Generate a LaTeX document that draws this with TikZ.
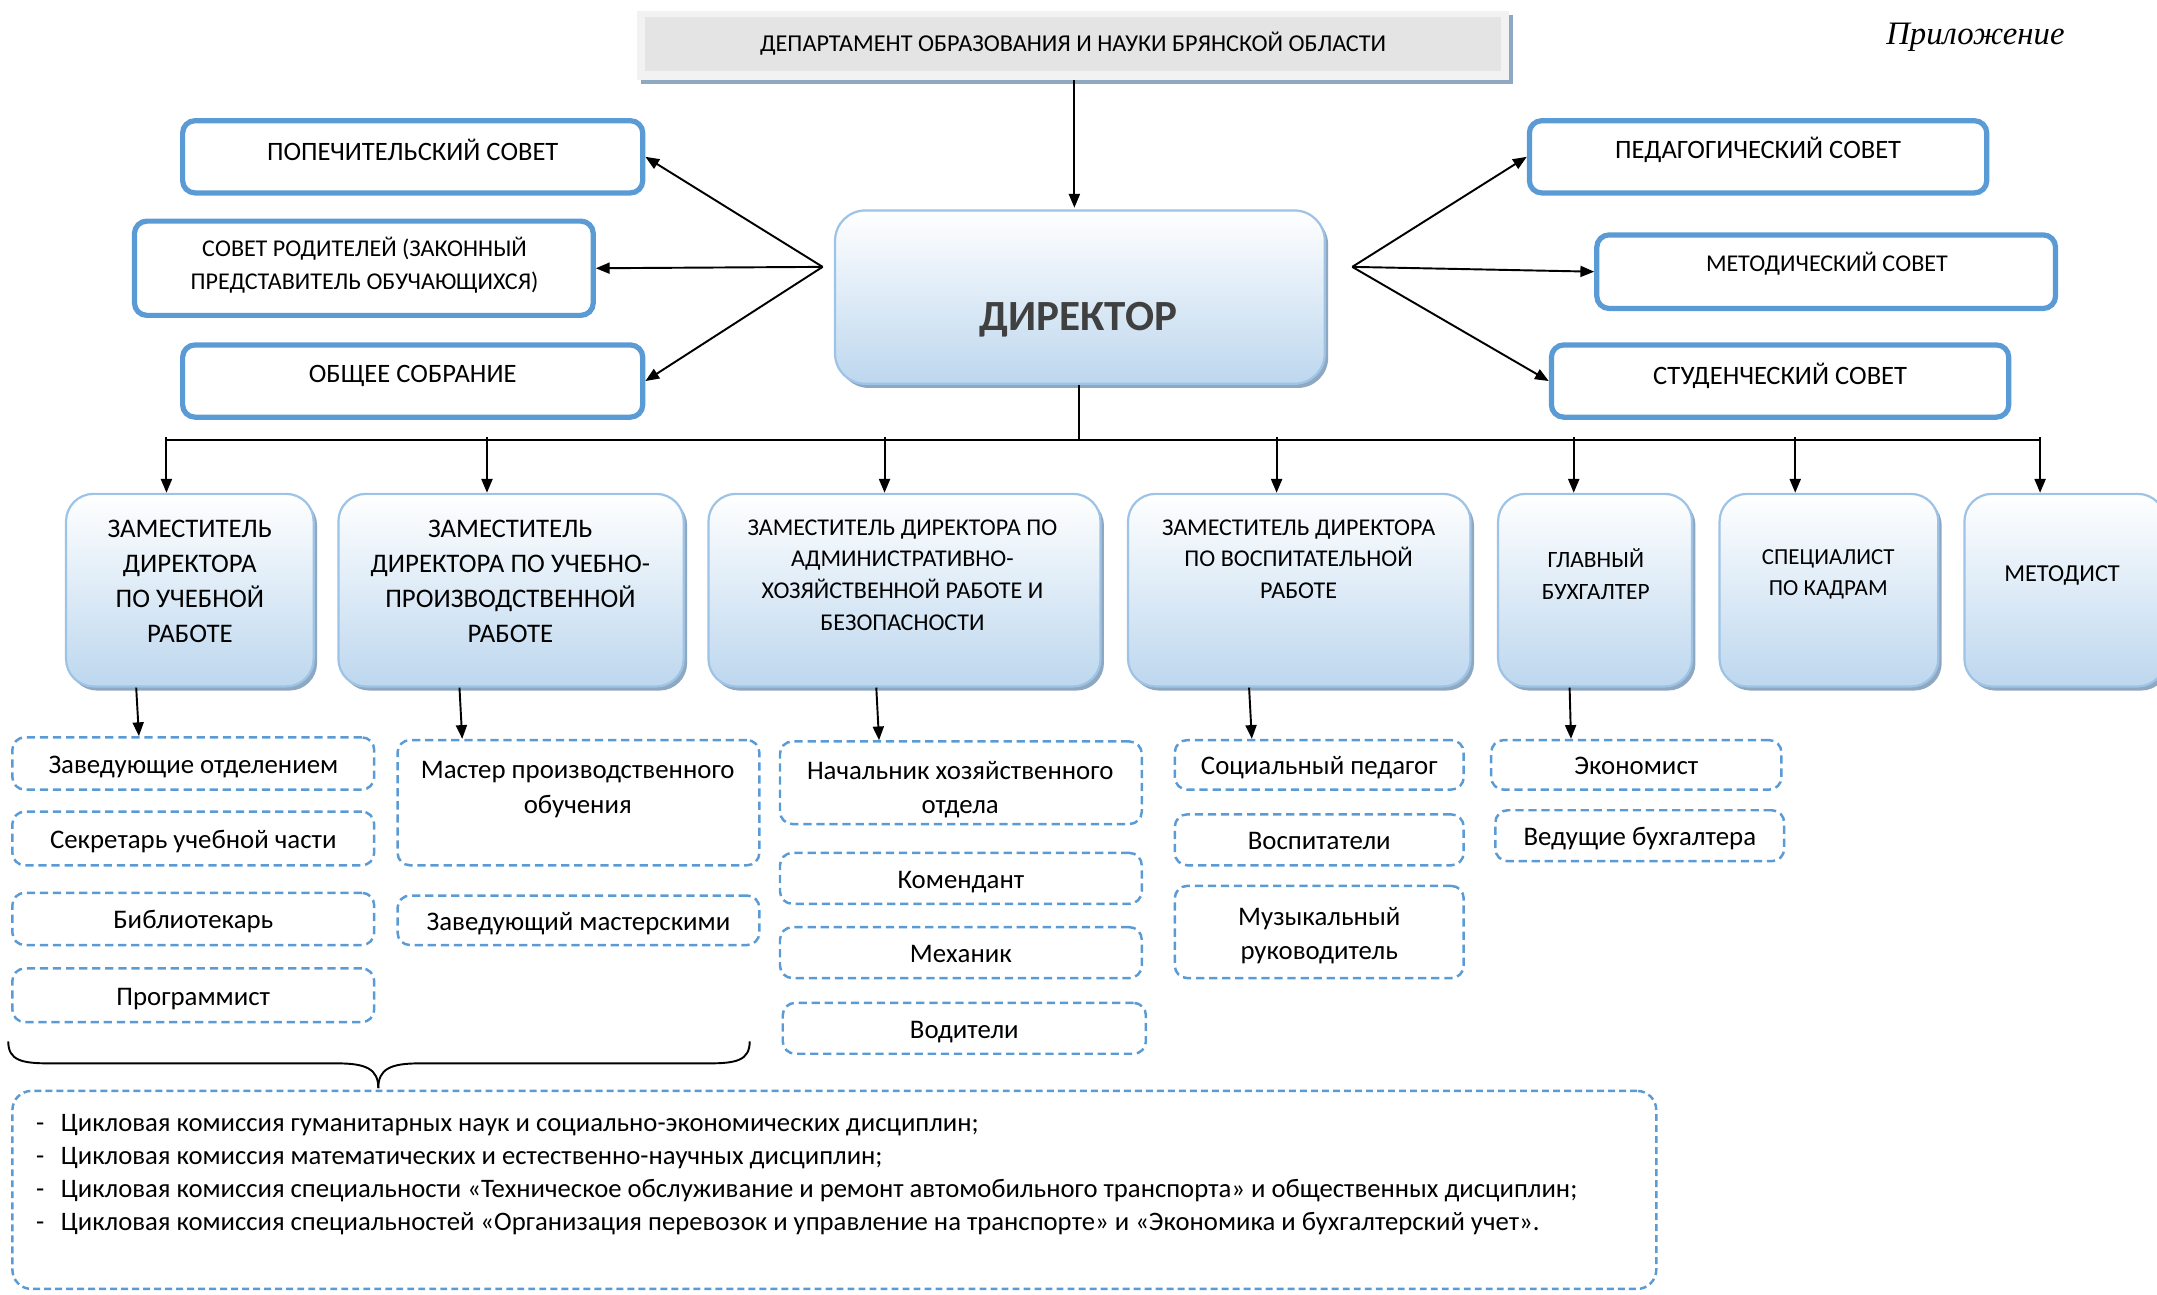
\documentclass[tikz,border=0pt]{standalone}
\usepackage{fontspec}
\setmainfont{Carlito}
\newfontfamily\tnr{Liberation Serif}
\usetikzlibrary{arrows.meta,shadows}
\definecolor{blueB}{HTML}{5B9BD5}
\definecolor{gBorder}{HTML}{9DC3E6}
\definecolor{gBottom}{HTML}{BDD7EE}
\definecolor{shadowC}{HTML}{8FA8C2}
\definecolor{deptFill}{HTML}{E4E4E4}
\definecolor{deptFrame}{HTML}{F2F2F2}
\definecolor{dirText}{HTML}{404040}
\begin{document}
\begin{tikzpicture}[x=1pt,y=-1pt,
  council/.style={draw=blueB, line width=3.8pt, rounded corners=9pt, fill=white, minimum height=52.5pt, inner sep=0pt},
  ctext/.style={font=\fontsize{19.3}{23}\selectfont, align=center, inner sep=0pt},
  gbox/.style={draw=gBorder, line width=1.6pt, rounded corners=20pt, top color=white, bottom color=gBottom,
     drop shadow={shadow xshift=2.5pt, shadow yshift=-3pt, fill=shadowC, opacity=1}, inner sep=0pt, minimum height=140pt},
  dtext/.style={font=\fontsize{19.5}{25.5}\selectfont, align=center, inner sep=0pt},
  dtextS/.style={font=\fontsize{17.5}{23}\selectfont, align=center, inner sep=0pt},
  dbox/.style={draw=blueB, line width=1.8pt, dash pattern=on 6pt off 3.5pt, rounded corners=9pt, inner sep=0pt,
     align=center, font=\fontsize{19.5}{25}\selectfont},
  dbox1/.style={dbox, text height=18pt, text depth=3.5pt},
  arr/.style={-{Triangle[length=10pt,width=8pt]}, line width=1.4pt},
  ln/.style={line width=1.4pt}]
\path[use as bounding box, clip] (0,0) rectangle (1568,941);

% header
\node[inner sep=0pt, font=\tnr\itshape\fontsize{23.8}{28}\selectfont] (app) at (1436,27) {Приложение};
\node[fill=deptFrame, minimum width=634pt, minimum height=50pt, inner sep=0pt,
  drop shadow={shadow xshift=3pt, shadow yshift=-3pt, fill=shadowC, opacity=1}] (dept) at (780,33) {};
\node[fill=deptFill, minimum width=622pt, minimum height=39pt, inner sep=0pt, font=\fontsize{17.6}{22}\selectfont] (deptT) at (780,32) {ДЕПАРТАМЕНТ ОБРАЗОВАНИЯ И НАУКИ БРЯНСКОЙ ОБЛАСТИ};

% director
\node[gbox, rounded corners=22pt, minimum width=356pt, minimum height=126pt] (dir) at (785,216) {};
\node[inner sep=0pt, text=dirText, font=\bfseries\fontsize{31.3}{36}\selectfont] (dirT) at (784,232.5) {ДИРЕКТОР};
\draw[arr] (dept.south -| 781,0) -- (781,151);

% councils
\node[council, minimum width=334.5pt] (pop) at (300,114) {};
\node[ctext] (popT) at (300,109) {ПОПЕЧИТЕЛЬСКИЙ СОВЕТ};
\node[council, minimum width=333.5pt, minimum height=68.5pt] (rod) at (264.5,195) {};
\node[ctext, font=\fontsize{17.5}{24}\selectfont] (rodT) at (265,193) {СОВЕТ РОДИТЕЛЕЙ (ЗАКОННЫЙ\\ПРЕДСТАВИТЕЛЬ ОБУЧАЮЩИХСЯ)};
\node[council, minimum width=334.5pt] (obs) at (300,277) {};
\node[ctext] (obsT) at (300,273) {ОБЩЕЕ СОБРАНИЕ};

\node[council, minimum width=332.5pt] (ped) at (1278,114) {};
\node[ctext] (pedT) at (1278,109) {ПЕДАГОГИЧЕСКИЙ СОВЕТ};
\node[council, minimum width=333.5pt, minimum height=53.5pt] (met) at (1327.5,197.5) {};
\node[ctext, font=\fontsize{17.5}{22}\selectfont] (metT) at (1328,192) {МЕТОДИЧЕСКИЙ СОВЕТ};
\node[council, minimum width=332.5pt] (stu) at (1294,277) {};
\node[ctext] (stuT) at (1294,273) {СТУДЕНЧЕСКИЙ СОВЕТ};

\coordinate (lh) at (598,194);
\coordinate (rh) at (983,194);
\draw[arr] (lh) -- (pop.east);
\draw[arr] (lh) -- (rod.east);
\draw[arr] (lh) -- (obs.east);
\draw[arr] (rh) -- (ped.west);
\draw[arr] (rh) -- (met.west);
\draw[arr] (rh) -- (stu.west);

% bus
\coordinate (busL) at (121,320);
\coordinate (busR) at (1483,320);
\draw[ln] (dir.south -| 784.4,0) -- (784.4,320);
\draw[ln] (busL) -- (busR);

% deputies
\node[gbox, minimum width=180pt] (d1) at (138,429) {};
\node[dtext] (d1T) at (138,422.5) {ЗАМЕСТИТЕЛЬ\\ДИРЕКТОРА\\ПО УЧЕБНОЙ\\РАБОТЕ};
\node[gbox, minimum width=251pt] (d2) at (371.5,429) {};
\node[dtext] (d2T) at (371,422.5) {ЗАМЕСТИТЕЛЬ\\ДИРЕКТОРА ПО УЧЕБНО-\\ПРОИЗВОДСТВЕННОЙ\\РАБОТЕ};
\node[gbox, minimum width=285pt] (d3) at (657.5,429) {};
\node[dtextS] (d3T) at (656,418) {ЗАМЕСТИТЕЛЬ ДИРЕКТОРА ПО\\АДМИНИСТРАТИВНО-\\ХОЗЯЙСТВЕННОЙ РАБОТЕ И\\БЕЗОПАСНОСТИ};
\node[gbox, minimum width=249pt] (d4) at (944.5,429) {};
\node[dtextS] (d4T) at (944,406.5) {ЗАМЕСТИТЕЛЬ ДИРЕКТОРА\\ПО ВОСПИТАТЕЛЬНОЙ\\РАБОТЕ};
\node[gbox, minimum width=141pt] (d5) at (1159.5,429) {};
\node[dtextS, font=\fontsize{17}{23}\selectfont] (d5T) at (1160,417.5) {ГЛАВНЫЙ\\БУХГАЛТЕР};
\node[gbox, minimum width=159pt] (d6) at (1329.5,429) {};
\node[dtextS, font=\fontsize{16.7}{22.5}\selectfont] (d6T) at (1329,417.5) {СПЕЦИАЛИСТ\\ПО КАДРАМ};
\node[gbox, minimum width=146pt] (d7) at (1501,429) {};
\node[dtextS, font=\fontsize{17.7}{22}\selectfont] (d7T) at (1499,418) {МЕТОДИСТ};

\foreach \x/\n in {121/d1,354/d2,643/d3,928/d4,1144/d5,1305/d6,1483/d7}{
  \draw[arr] (\x,318) -- (\x,0 |- \n.north);
}

% dashed boxes
\node[dbox1, minimum width=263pt, minimum height=38pt] (z1) at (140.5,555) {Заведующие отделением};
\node[dbox1, minimum width=263pt, minimum height=39pt] (z2) at (140.5,609.5) {Секретарь учебной части};
\node[dbox1, minimum width=263pt, minimum height=38pt] (z3) at (140.5,668) {Библиотекарь};
\node[dbox1, minimum width=263pt, minimum height=39pt] (z4) at (140.5,723.5) {Программист};

\node[dbox, minimum width=263pt, minimum height=91pt] (m1) at (420.5,583.5) {};
\node[dtext, font=\fontsize{19.5}{25}\selectfont] (m1T) at (420,574) {Мастер производственного\\обучения};
\node[dbox1, minimum width=263pt, minimum height=36pt] (m2) at (420.5,669) {Заведующий мастерскими};

\node[dbox, minimum width=263pt, minimum height=60pt] (h1) at (698.5,569) {};
\node[dtext, font=\fontsize{19.5}{25}\selectfont] (h1T) at (698,574) {Начальник хозяйственного\\отдела};
\node[dbox1, minimum width=263pt, minimum height=37pt] (h2) at (698.5,638.5) {Комендант};
\node[dbox1, minimum width=263pt, minimum height=37pt] (h3) at (698.5,692.5) {Механик};
\node[dbox1, minimum width=264pt, minimum height=37pt] (h4) at (701,747.5) {Водители};

\node[dbox1, minimum width=210pt, minimum height=36pt] (s1) at (959,556) {Социальный педагог};
\node[dbox1, minimum width=210pt, minimum height=37pt] (s2) at (959,610.5) {Воспитатели};
\node[dbox, minimum width=210pt, minimum height=67pt] (s3) at (959,677.5) {};
\node[dtext, font=\fontsize{19.5}{25}\selectfont] (s3T) at (959,680) {Музыкальный\\руководитель};

\node[dbox1, minimum width=211pt, minimum height=36pt] (e1) at (1189.5,556) {Экономист};
\node[dbox1, minimum width=210pt, minimum height=37pt] (e2) at (1192,607.5) {Ведущие бухгалтера};

\draw[arr] ([xshift=-39pt]d1.south) -- ([xshift=-37pt]d1.south |- z1.north);
\draw[arr] ([xshift=-37.5pt]d2.south) -- ([xshift=-35.5pt]d2.south |- m1.north);
\draw[arr] ([xshift=-20.5pt]d3.south) -- ([xshift=-18.5pt]d3.south |- h1.north);
\draw[arr] ([xshift=-36.5pt]d4.south) -- ([xshift=-34.5pt]d4.south |- s1.north);
\draw[arr] ([xshift=-18.5pt]d5.south) -- ([xshift=-17.5pt]d5.south |- e1.north);

% brace
\coordinate (brL) at (6,757);
\coordinate (brR) at (545,757);
\coordinate (brTip) at (275,791);
\draw[ln] (brL) .. controls (6,771) and (16,773) .. (36,773) -- (245,773) .. controls (266,773) and (275,777) .. (brTip);
\draw[ln] (brR) .. controls (545,771) and (535,773) .. (515,773) -- (305,773) .. controls (284,773) and (275,777) .. (brTip);

% commissions
\node[draw=blueB, line width=1.8pt, dash pattern=on 5pt off 3pt, rounded corners=14pt, minimum width=1195pt, minimum height=144pt, inner sep=0pt] (cbox) at (606.5,865) {};
\node[anchor=west, align=left, inner sep=0pt, font=\fontsize{19.4}{24}\selectfont] (comm) at (26,854)
 {\makebox[18pt][l]{-}Цикловая комиссия гуманитарных наук и социально-экономических дисциплин;\\
  \makebox[18pt][l]{-}Цикловая комиссия математических и естественно-научных дисциплин;\\
  \makebox[18pt][l]{-}Цикловая комиссия специальности «Техническое обслуживание и ремонт автомобильного транспорта» и общественных дисциплин;\\
  \makebox[18pt][l]{-}Цикловая комиссия специальностей «Организация перевозок и управление на транспорте» и «Экономика и бухгалтерский учет».};
\end{tikzpicture}
\end{document}
